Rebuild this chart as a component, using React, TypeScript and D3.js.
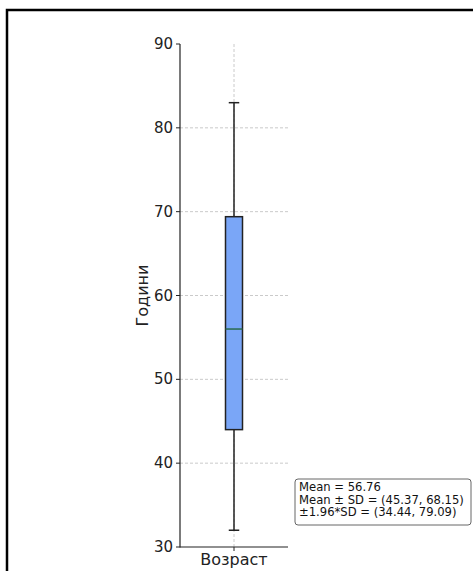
import React from "react";
import * as d3 from "d3";

const WIDTH = 473;
const HEIGHT = 571;

const categories = ["Возраст"];
const yTicks = [30, 40, 50, 60, 70, 80, 90];
const boxStats = [{ q1: 44, median: 56, q3: 69.4, whiskerLow: 32, whiskerHigh: 83 }];
const statsLines = [
  "Mean = 56.76",
  "Mean ± SD = (45.37, 68.15)",
  "±1.96*SD = (34.44, 79.09)",
];

const FONT = "'DejaVu Sans', sans-serif";

export default function App() {
  const y = d3.scaleLinear().domain([30, 90]).range([547, 44]);
  const x = d3.scaleBand().domain(categories).range([180, 288]).paddingInner(0).paddingOuter(0);
  const boxW = 17;
  const capW = boxW / 2;

  return (
    <svg
      width={WIDTH}
      height={HEIGHT}
      style={{ position: "absolute", left: 0, top: 0, background: "#fff" }}
    >
      <rect x={7} y={10} width={500} height={600} fill="white" stroke="black" strokeWidth={2.5} />

      {/* grid */}
      {yTicks.filter((t) => t > 30 && t < 90).map((t) => (
        <line
          key={t}
          x1={180}
          x2={288}
          y1={y(t)}
          y2={y(t)}
          stroke="#bdbdbd"
          strokeWidth={0.8}
          strokeDasharray="3,2"
        />
      ))}
      {categories.map((c) => {
        const cx = x(c)! + x.bandwidth() / 2;
        return (
          <line
            key={c}
            x1={cx}
            x2={cx}
            y1={y(90)}
            y2={y(30)}
            stroke="#bdbdbd"
            strokeWidth={0.8}
            strokeDasharray="3,2"
          />
        );
      })}

      {/* boxes */}
      {categories.map((c, i) => {
        const s = boxStats[i];
        const cx = x(c)! + x.bandwidth() / 2;
        return (
          <g key={c}>
            <line x1={cx} x2={cx} y1={y(s.q3)} y2={y(s.whiskerHigh)} stroke="#222" strokeWidth={1.5} />
            <line x1={cx} x2={cx} y1={y(s.q1)} y2={y(s.whiskerLow)} stroke="#222" strokeWidth={1.5} />
            <line x1={cx - capW / 2 - 1} x2={cx + capW / 2 + 1} y1={y(s.whiskerHigh)} y2={y(s.whiskerHigh)} stroke="#222" strokeWidth={1.5} />
            <line x1={cx - capW / 2 - 1} x2={cx + capW / 2 + 1} y1={y(s.whiskerLow)} y2={y(s.whiskerLow)} stroke="#222" strokeWidth={1.5} />
            <rect
              x={cx - boxW / 2}
              y={y(s.q3)}
              width={boxW}
              height={y(s.q1) - y(s.q3)}
              fill="#7aa6f7"
              stroke="#222"
              strokeWidth={1.5}
            />
            <line x1={cx - boxW / 2} x2={cx + boxW / 2} y1={y(s.median)} y2={y(s.median)} stroke="#2a6b4c" strokeWidth={1.5} />
          </g>
        );
      })}

      {/* axes */}
      <line x1={180} x2={180} y1={y(90)} y2={y(30) + 0.5} stroke="#222" strokeWidth={1.2} />
      <line x1={180} x2={288} y1={y(30)} y2={y(30)} stroke="#222" strokeWidth={1.2} />
      {yTicks.map((t) => (
        <g key={t}>
          <line x1={176} x2={180} y1={y(t)} y2={y(t)} stroke="#222" strokeWidth={1} />
          <text x={173} y={y(t)} textAnchor="end" dominantBaseline="central" fontFamily={FONT} fontSize={15} fill="#222">
            {t}
          </text>
        </g>
      ))}
      {categories.map((c) => {
        const cx = x(c)! + x.bandwidth() / 2;
        return (
          <g key={c}>
            <line x1={cx} x2={cx} y1={y(30)} y2={y(30) + 4} stroke="#222" strokeWidth={1} />
            <text x={cx} y={565} textAnchor="middle" fontFamily={FONT} fontSize={16} fill="#222">
              {c}
            </text>
          </g>
        );
      })}
      <text
        transform={`translate(148, ${y(60)}) rotate(-90)`}
        textAnchor="middle"
        fontFamily={FONT}
        fontSize={16}
        fill="#222"
      >
        Години
      </text>

      {/* stats box */}
      <rect x={295} y={479} width={176} height={46} rx={3} fill="white" stroke="#666" strokeWidth={1} />
      {statsLines.map((l, i) => (
        <text key={i} x={299} y={491 + i * 12.6} fontFamily={FONT} fontSize={11.6} fill="#111">
          {l}
        </text>
      ))}
    </svg>
  );
}
